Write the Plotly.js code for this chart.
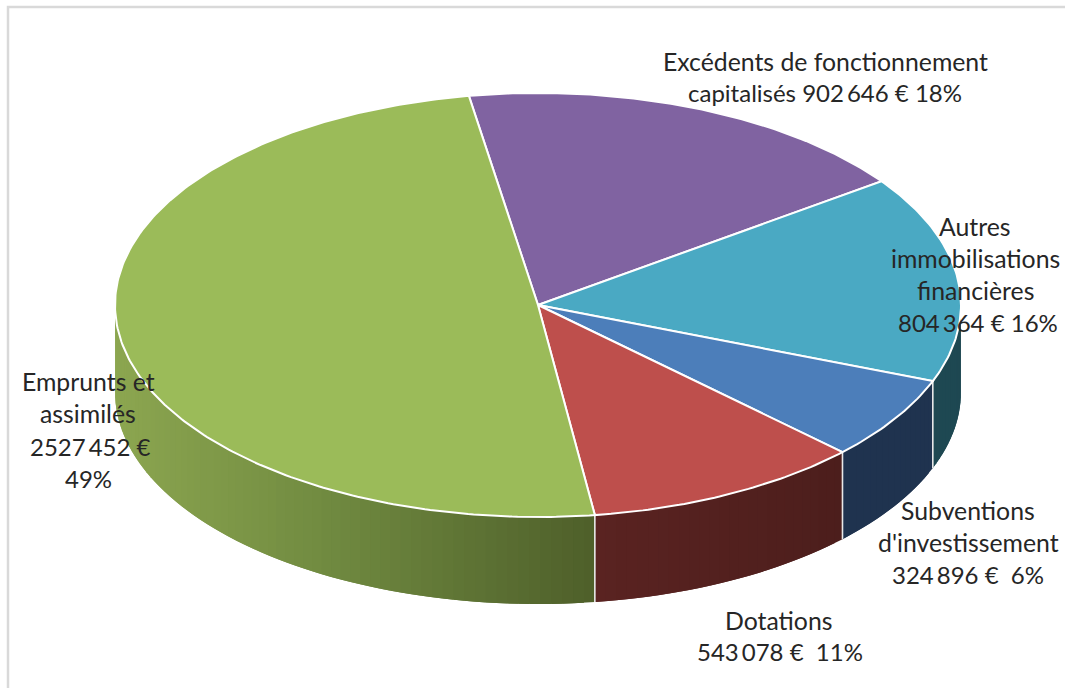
<!DOCTYPE html>
<html>
<head>
<meta charset="utf-8">
<script src="https://cdn.plot.ly/plotly-3.0.1.min.js"></script>
<style>html,body{margin:0;padding:0;background:#fff;overflow:hidden}#chart{width:1065px;height:688px}</style>
</head>
<body>
<div id="chart"></div>
<script>
// Data
const categories = ["Excédents de fonctionnement capitalisés","Autres immobilisations financières","Subventions d'investissement","Dotations","Emprunts et assimilés"];
const amounts = [902646, 804364, 324896, 543078, 2527452];
const labelLines = [
  ["Excédents de fonctionnement","capitalisés 902\u2009646 € 18%"],
  ["Autres","immobilisations","financières","804\u2009364 € 16%"],
  ["Subventions","d'investissement","324\u2009896 €  6%"],
  ["Dotations","543\u2009078 €  11%"],
  ["Emprunts et","assimilés","2527\u2009452 €","49%"]
];

// Styling and layout
const topColors = ["#8063A1","#4AA9C3","#4C7EBA","#BE4F4C","#9BBB59"];
const wallStops = [
  [[115,[64,50,82]],[961,[64,50,82]]],
  [[843,[30,72,82]],[961,[30,72,82]]],
  [[843,[31,51,79]],[933,[31,51,79]]],
  [[595,[90,35,33]],[843,[76,30,28]]],
  [[115,[140,166,80]],[330,[112,138,64]],[595,[78,95,42]]]
];
const labelPos = [
  [[825,825],[61.5,92.5]],
  [[975,975,975,978],[226.5,258.5,290.5,322.5]],
  [[968,968,968],[510.5,542.5,574.5]],
  [[778,780],[620.5,651.5]],
  [[88,88,90,88],[381.5,413.5,446.5,478.5]]
];
const cx=538, cy=305, rx=423, ry=212, depth=87, startAngle=-9.4;

const ex = t => cx + rx*Math.sin(t*Math.PI/180);
const ey = t => cy - ry*Math.cos(t*Math.PI/180);
const total = amounts.reduce((a,b)=>a+b,0);
let acc = startAngle;
const bounds = amounts.map(v=>{const s=acc; acc+=v/total*360; return [s,acc];});

function wallColor(stops,x){
  let a=stops[0], b=stops[stops.length-1];
  for(let i=0;i<stops.length-1;i++){ if(x>=stops[i][0] && x<=stops[i+1][0]){a=stops[i];b=stops[i+1];break;} }
  const f = b[0]===a[0]?0:Math.min(1,Math.max(0,(x-a[0])/(b[0]-a[0])));
  const c=a[1].map((v,i)=>Math.round(v+(b[1][i]-v)*f));
  return `rgb(${c.join(',')})`;
}
const traces=[];
const base={mode:'lines',hoverinfo:'skip',showlegend:false};
// side walls: each strip overlaps the next one so no seams appear
bounds.forEach(([s,e],i)=>{
  const a=Math.max(s,90), b=Math.min(e,270);
  if(b<=a) return;
  const n=Math.max(1,Math.ceil((b-a)/1.5));
  for(let k=0;k<n;k++){
    const t0=a+(b-a)*k/n, t1=a+(b-a)*(k+1)/n, t2=Math.min(b,t1+(b-a)/n);
    const col=wallColor(wallStops[i],(ex(t0)+ex(t1))/2);
    const xs=[],ys=[];
    [t0,t1,t2].forEach(t=>{xs.push(ex(t));ys.push(ey(t));});
    [t2,t1,t0].forEach(t=>{xs.push(ex(t));ys.push(ey(t)+depth);});
    xs.push(ex(t0));ys.push(ey(t0));
    traces.push({...base,x:xs,y:ys,fill:'toself',fillcolor:col,line:{color:col,width:0}});
  }
});
// white separators on the walls
bounds.forEach(([s,e])=>{
  if(e>90 && e<270){traces.push({...base,x:[ex(e),ex(e)],y:[ey(e),ey(e)+depth],line:{color:'#E8E8E8',width:1.6}});}
});
// top slices
bounds.forEach(([s,e],i)=>{
  const xs=[cx], ys=[cy], n=Math.ceil((e-s)/0.75);
  for(let k=0;k<=n;k++){const t=s+(e-s)*k/n; xs.push(ex(t)); ys.push(ey(t));}
  xs.push(cx); ys.push(cy);
  traces.push({...base,x:xs,y:ys,fill:'toself',fillcolor:topColors[i],line:{color:'#FFFFFF',width:2},name:categories[i]});
});
// frame
traces.push({...base,x:[8,8,1065],y:[688,7,7],line:{color:'#D9D9D9',width:2.5}});

const annotations=[];
labelLines.forEach((lines,i)=>{
  lines.forEach((txt,j)=>{
    const numeric=/\d/.test(txt);
    annotations.push({x:labelPos[i][0][j],y:labelPos[i][1][j],xref:'x',yref:'y',text:txt,showarrow:false,
      xanchor:'center',yanchor:'middle',font:{family:'Lato',size:numeric?24:24.8,color:'#262626'}});
  });
});
Plotly.newPlot('chart',traces,{
  width:1065,height:688,margin:{l:0,r:0,t:0,b:0},paper_bgcolor:'#fff',plot_bgcolor:'#fff',
  xaxis:{range:[0,1065],visible:false,fixedrange:true},
  yaxis:{range:[688,0],visible:false,fixedrange:true},
  annotations,showlegend:false
},{displayModeBar:false,staticPlot:true});
</script>
</body>
</html>
